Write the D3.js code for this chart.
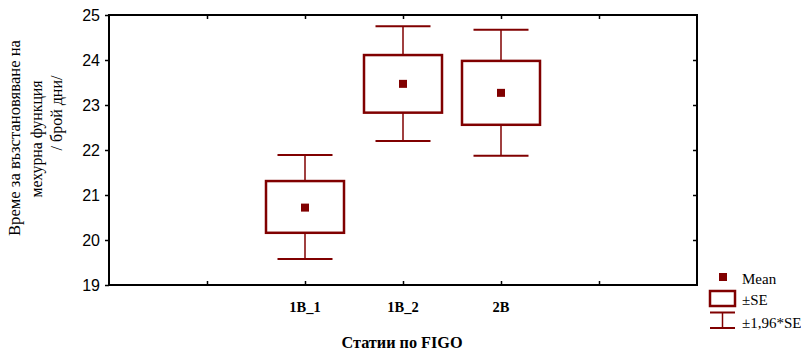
<!DOCTYPE html>
<html lang="bg">
<head>
    <meta charset="UTF-8">
    <title>Статии по FIGO</title>
    <script src="https://cdn.jsdelivr.net/npm/d3@7"></script>
    <style>
        html, body { margin: 0; padding: 0; background: #fff; }
        svg text { fill: #000; }
    </style>
</head>
<body>
<div id="chart"></div>
<script>
    // categories and their slot on the x axis (0..6)
    const categories = ["1B_1", "1B_2", "2B"];
    const slots = [2, 3, 4];
    const means = [20.72, 23.47, 23.27];
    const seLow = [20.16, 22.83, 22.56];
    const seHigh = [21.31, 24.11, 23.98];
    const ciLow = [19.58, 22.20, 21.87];
    const ciHigh = [21.89, 24.75, 24.67];
    const yTicks = [19, 20, 21, 22, 23, 24, 25];
    const xTicks = [1, 2, 3, 4, 5];
    const yTitle = ["Време за възстановяване на", "мехурна функция", "/ брой дни/"];
    const xTitle = "Статии по FIGO";
    const legendItems = ["Mean", "±SE", "±1,96*SE"];

    const W = 801, H = 350;
    const color = "#800000";
    const serif = "'Liberation Serif', 'Times New Roman', serif";
    const m = {left: 109, right: 697, top: 15, bottom: 285};

    const svg = d3.select("#chart").append("svg")
        .attr("width", W).attr("height", H);

    const x = d3.scaleLinear().domain([0, 6]).range([m.left, m.right]);
    const y = d3.scaleLinear().domain([19, 25]).range([m.bottom, m.top]);

    // y axis (left, labels)
    const yAxis = svg.append("g")
        .attr("transform", `translate(${m.left},0)`)
        .call(d3.axisLeft(y).tickValues(yTicks).tickSize(4).tickPadding(5).tickFormat(d3.format("d")));
    yAxis.select(".domain").remove();
    yAxis.selectAll("line").attr("stroke", "#000").attr("stroke-width", 1.5);
    yAxis.selectAll("text").style("font-family", "'Liberation Sans', Arial, sans-serif").style("font-size", "16px");

    // right axis ticks (inside)
    svg.append("g")
        .attr("transform", `translate(${m.right},0)`)
        .call(d3.axisRight(y).tickValues(yTicks.slice(1, -1)).tickSize(-4).tickFormat(""))
        .call(g => g.select(".domain").remove())
        .selectAll("line").attr("stroke", "#000").attr("stroke-width", 1.5);

    // bottom axis
    const xAxis = svg.append("g")
        .attr("transform", `translate(0,${m.bottom})`)
        .call(d3.axisBottom(x).tickValues(xTicks).tickSize(-4).tickFormat(""));
    xAxis.select(".domain").remove();
    xAxis.selectAll("line").attr("stroke", "#000").attr("stroke-width", 1.5);

    // top axis
    svg.append("g")
        .attr("transform", `translate(0,${m.top})`)
        .call(d3.axisTop(x).tickValues(xTicks).tickSize(-4).tickFormat(""))
        .call(g => g.select(".domain").remove())
        .selectAll("line").attr("stroke", "#000").attr("stroke-width", 1.5);

    // frame
    svg.append("rect")
        .attr("x", m.left).attr("y", m.top)
        .attr("width", m.right - m.left).attr("height", m.bottom - m.top)
        .attr("fill", "none").attr("stroke", "#000").attr("stroke-width", 2);

    // category labels
    svg.selectAll(".cat").data(categories).enter().append("text")
        .attr("x", (d, i) => x(slots[i]))
        .attr("y", 312)
        .attr("text-anchor", "middle")
        .style("font-family", serif)
        .style("font-weight", "bold")
        .style("font-size", "14.5px")
        .text(d => d);

    svg.append("text")
        .attr("x", 402).attr("y", 347.5)
        .attr("text-anchor", "middle")
        .attr("textLength", 121)
        .attr("lengthAdjust", "spacingAndGlyphs")
        .style("font-family", serif)
        .style("font-weight", "bold")
        .style("font-size", "16px")
        .text(xTitle);

    // y title, three lines rotated
    const yCenters = [138, 139, 113];
    const yXs = [20, 42, 62];
    const yLens = [196, 117, null];
    yTitle.forEach((t, i) => {
        const tx = svg.append("text")
            .attr("transform", `translate(${yXs[i]},${yCenters[i]}) rotate(-90)`)
            .attr("text-anchor", "middle")
            .style("font-family", serif)
            .style("font-size", "16px")
            .text(t);
        if (yLens[i]) tx.attr("textLength", yLens[i]).attr("lengthAdjust", "spacingAndGlyphs");
    });

    // boxes and whiskers
    const boxW = 78, capW = 55;
    const g = svg.append("g");
    categories.forEach((c, i) => {
        const cx = x(slots[i]);
        g.append("line").attr("x1", cx).attr("x2", cx)
            .attr("y1", y(ciHigh[i])).attr("y2", y(seHigh[i]))
            .attr("stroke", color).attr("stroke-width", 1.5);
        g.append("line").attr("x1", cx).attr("x2", cx)
            .attr("y1", y(seLow[i])).attr("y2", y(ciLow[i]))
            .attr("stroke", color).attr("stroke-width", 1.5);
        [ciHigh[i], ciLow[i]].forEach(v => {
            g.append("line").attr("x1", cx - capW / 2).attr("x2", cx + capW / 2)
                .attr("y1", y(v)).attr("y2", y(v))
                .attr("stroke", color).attr("stroke-width", 2);
        });
        g.append("rect")
            .attr("x", cx - boxW / 2).attr("y", y(seHigh[i]))
            .attr("width", boxW).attr("height", y(seLow[i]) - y(seHigh[i]))
            .attr("fill", "#fff").attr("stroke", color).attr("stroke-width", 2.5);
        g.append("rect")
            .attr("x", cx - 4).attr("y", y(means[i]) - 4)
            .attr("width", 8).attr("height", 8)
            .attr("fill", color);
    });

    // legend
    const lg = svg.append("g");
    lg.append("rect").attr("x", 719).attr("y", 273).attr("width", 8).attr("height", 8).attr("fill", color);
    lg.append("rect").attr("x", 710).attr("y", 291).attr("width", 25).attr("height", 15)
        .attr("fill", "none").attr("stroke", color).attr("stroke-width", 2.5);
    lg.append("line").attr("x1", 710).attr("x2", 735).attr("y1", 312.5).attr("y2", 312.5).attr("stroke", color).attr("stroke-width", 2);
    lg.append("line").attr("x1", 710).attr("x2", 735).attr("y1", 328).attr("y2", 328).attr("stroke", color).attr("stroke-width", 2);
    lg.append("line").attr("x1", 722.5).attr("x2", 722.5).attr("y1", 312.5).attr("y2", 328).attr("stroke", color).attr("stroke-width", 1.5);
    lg.selectAll(".lt").data(legendItems).enter().append("text")
        .attr("x", 742)
        .attr("y", (d, i) => [284, 305, 328][i])
        .style("font-family", serif)
        .style("font-size", "15px")
        .text(d => d);
</script>
</body>
</html>
